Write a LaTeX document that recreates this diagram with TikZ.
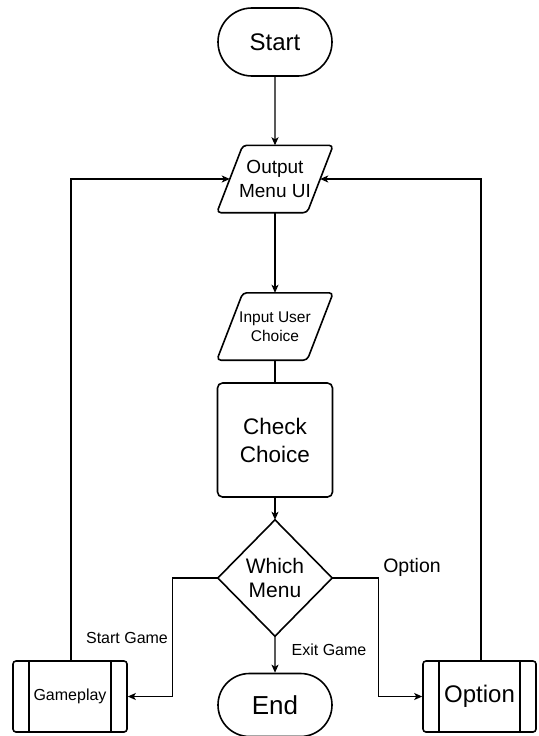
\documentclass[tikz,border=0pt]{standalone}
\usepackage{fontspec}
\setmainfont{Liberation Sans}
\usetikzlibrary{arrows.meta,shapes.misc,calc}
\newcommand{\fsz}[2]{\fontsize{#1}{#2}\selectfont}
\begin{document}
\begin{tikzpicture}[x=1pt,y=-1pt,
  box/.style={draw=none,inner sep=0pt,align=center},
  outline/.style={draw=black,line width=1.6pt,line join=round},
  terminal/.style={rounded rectangle,draw=black,line width=1.6pt,inner sep=0pt,minimum width=114pt,align=center},
  conn/.style={draw=black,line width=1.2pt},
  arr/.style={conn,-{Stealth[length=8pt,width=7pt,inset=2pt]}},
  lbl/.style={inner sep=0pt,align=center}]
\useasboundingbox (0,0) rectangle (538,736);

% Start
\node[terminal,minimum height=68pt,font=\fsz{24}{28}] (start) at (275,42) {Start};

% Output Menu UI
\node[box,minimum width=90pt,minimum height=67pt,font=\fsz{19}{24}] (oui) at (275,179) {Output\\ Menu UI};
\draw[outline,rounded corners=4pt] ($(oui.north west)+(13,0)$) -- ($(oui.north east)+(13,0)$) -- ($(oui.south east)+(-13,0)$) -- ($(oui.south west)+(-13,0)$) -- cycle;

% Input User Choice
\node[box,minimum width=90pt,minimum height=67pt,font=\fsz{15.5}{19}] (iuc) at (275,326.5) {Input User\\ Choice};
\draw[outline,rounded corners=4pt] ($(iuc.north west)+(13,0)$) -- ($(iuc.north east)+(13,0)$) -- ($(iuc.south east)+(-13,0)$) -- ($(iuc.south west)+(-13,0)$) -- cycle;

% Check Choice
\node[outline,rounded corners=5pt,inner sep=0pt,align=center,minimum width=115pt,minimum height=114pt,font=\fsz{22.5}{28}] (cc) at (275,440) {Check\\ Choice};

% Which Menu
\node[box,minimum width=114pt,minimum height=116pt,font=\fsz{21}{24}] (wm) at (275,578) {Which\\ Menu};
\draw[outline] (wm.north) -- (wm.east) -- (wm.south) -- (wm.west) -- cycle;

% End
\node[terminal,minimum height=63pt,font=\fsz{26}{30}] (end) at (275,705) {End};

% Gameplay
\node[outline,rounded corners=3pt,inner sep=0pt,minimum width=114pt,minimum height=71pt,font=\fsz{16}{19}] (gp) at (70,696.5) {Gameplay};
\draw[outline] ($(gp.north west)+(17,0)$) -- ($(gp.south west)+(17,0)$);
\draw[outline] ($(gp.north east)+(-17,0)$) -- ($(gp.south east)+(-17,0)$);

% Option box
\node[outline,rounded corners=3pt,inner sep=0pt,minimum width=113pt,minimum height=71pt,font=\fsz{24}{28}] (op) at (479.5,696.5) {Option};
\draw[outline] ($(op.north west)+(17,0)$) -- ($(op.south west)+(17,0)$);
\draw[outline] ($(op.north east)+(-17,0)$) -- ($(op.south east)+(-17,0)$);

% connectors
\draw[arr] (start) -- (oui);
\draw[arr] (oui) -- (iuc);
\draw[conn] (iuc) -- (cc);
\draw[arr] (cc) -- (wm);
\draw[arr] (wm.south) -- (end);
\draw[arr] (wm.west) -- ++(-45,0) |- (gp.east);
\draw[arr] (wm.east) -- ++(46,0) |- (op.west);
\draw[arr] ($(gp.north)+(1,0)$) |- (oui.west);
\draw[arr] ($(op.north)+(1.5,0)$) |- (oui.east);

% labels
\node[lbl,font=\fsz{16}{19}] (lsg) at (127,638) {Start Game};
\node[lbl,font=\fsz{16}{19}] (leg) at (329,650) {Exit Game};
\node[lbl,font=\fsz{19.5}{23}] (lop) at (412,567) {Option};
\end{tikzpicture}
\end{document}
